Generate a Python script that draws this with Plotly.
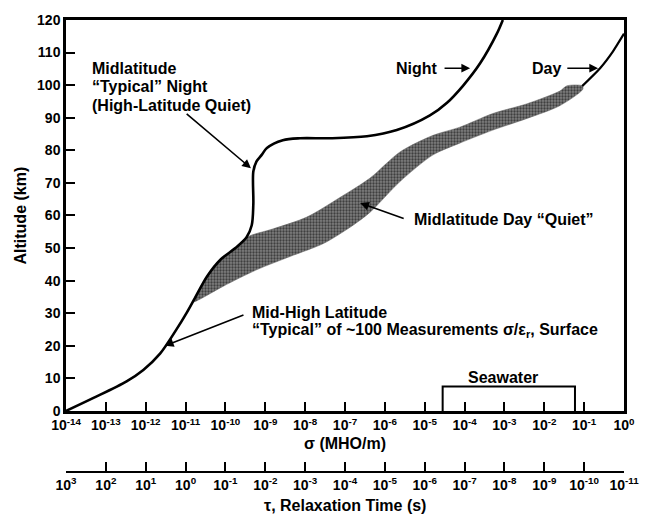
import plotly.graph_objects as go

# ---- conductivity profiles (x given as log10 of sigma in MHO/m, y altitude in km) ----
night_log_sigma = [-14.0, -13.31, -12.48, -12.06, -11.64, -11.22, -10.97, -10.76, -10.45,
                   -10.12, -9.75, -9.47, -9.34, -9.30, -9.30, -9.22, -9.09, -8.96, -8.56,
                   -8.13, -7.38, -6.45, -5.70, -4.87, -4.44, -4.04, -3.61, -3.19, -3.04]
night_alt = [0.0, 4.0, 9.1, 12.6, 17.6, 25.2, 30.2, 34.8, 41.5,
             46.5, 50.0, 53.3, 57.0, 63.5, 73.5, 76.6, 78.6, 80.7, 83.1,
             83.7, 83.7, 84.3, 86.2, 90.7, 94.6, 99.8, 106.7, 115.8, 120.0]

day_log_sigma = [-1.05, -0.60, -0.28, 0.0]
day_alt = [99.7, 105.2, 110.3, 115.8]

# "Midlatitude Day Quiet" band: upper edge left->right, then lower edge right->left
band_upper_log_sigma = [-10.80, -10.45, -10.12, -9.75, -9.47, -8.80, -7.96, -7.13, -6.37,
                        -5.62, -4.79, -4.12, -3.29, -2.43, -1.61, -1.43, -1.05]
band_upper_alt = [33.5, 41.5, 46.5, 50.0, 53.3, 55.9, 59.5, 65.5, 71.5,
                  79.5, 84.6, 87.1, 91.3, 94.3, 98.2, 99.8, 99.8]
band_lower_log_sigma = [-1.03, -1.61, -2.43, -3.29, -4.12, -4.79, -5.62, -6.37, -6.87,
                        -7.54, -8.38, -9.22, -10.05, -10.64]
band_lower_alt = [98.8, 93.7, 89.8, 86.2, 82.2, 78.6, 70.4, 61.0, 56.4,
                  51.4, 47.4, 43.3, 38.3, 34.3]

# seawater conductivity range and box height (km)
seawater_log_sigma = [-4.55, -1.23]
seawater_height = 7.5

# axis ticks
sigma_exponents = list(range(-14, 1))
tau_exponents = list(range(3, -12, -1))
alt_ticks = list(range(0, 121, 10))

FONT = "Liberation Sans, Arial, Helvetica, sans-serif"


def to_sigma(vals):
    return [10 ** v for v in vals]


fig = go.Figure()

band_x = band_upper_log_sigma + band_lower_log_sigma + [band_upper_log_sigma[0]]
band_y = band_upper_alt + band_lower_alt + [band_upper_alt[0]]
fig.add_trace(go.Scatter(
    x=to_sigma(band_x), y=band_y, mode="lines", fill="toself",
    line=dict(color="#666666", width=0.5, shape="spline", smoothing=0.8),
    fillcolor="#707070",
    fillpattern=dict(shape=".", bgcolor="#7e7e7e", fgcolor="#000000",
                     size=3, solidity=0.45),
    hoverinfo="skip", showlegend=False))

fig.add_trace(go.Scatter(
    x=to_sigma(night_log_sigma), y=night_alt, mode="lines",
    line=dict(color="black", width=2.6, shape="spline", smoothing=0.9),
    hoverinfo="skip", showlegend=False))

fig.add_trace(go.Scatter(
    x=to_sigma(day_log_sigma), y=day_alt, mode="lines",
    line=dict(color="black", width=2.2, shape="spline", smoothing=0.6),
    hoverinfo="skip", showlegend=False))

sx0, sx1 = to_sigma(seawater_log_sigma)
fig.add_trace(go.Scatter(
    x=[sx0, sx0, sx1, sx1], y=[0, seawater_height, seawater_height, 0],
    mode="lines", line=dict(color="black", width=2),
    hoverinfo="skip", showlegend=False))

# placeholder trace so the relaxation-time axis is drawn
fig.add_trace(go.Scatter(
    x=[10.0 ** e for e in tau_exponents], y=[None] * len(tau_exponents),
    xaxis="x2", yaxis="y", mode="markers", hoverinfo="skip", showlegend=False))

tick_font = dict(family=FONT, size=14, color="black", weight="bold")

fig.update_layout(
    width=658, height=516,
    margin=dict(l=66, r=34, t=13, b=44),
    paper_bgcolor="white", plot_bgcolor="white",
    font=dict(family=FONT, size=14, color="black", weight="bold"),
    showlegend=False,
    xaxis=dict(
        type="log", range=[-14, 0], anchor="y",
        tickvals=[10.0 ** e for e in sigma_exponents],
        ticktext=[f"10<sup>{e}</sup>" for e in sigma_exponents],
        ticks="inside", ticklen=9, tickwidth=2, tickcolor="black",
        showline=True, linewidth=2.5, linecolor="black", mirror=True,
        showgrid=False, zeroline=False, tickfont=tick_font),
    yaxis=dict(
        range=[0, 120], domain=[0.1351, 1],
        tickvals=alt_ticks,
        ticks="inside", ticklen=9, tickwidth=2, tickcolor="black",
        showline=True, linewidth=2.5, linecolor="black", mirror=True,
        showgrid=False, zeroline=False, tickfont=tick_font),
    xaxis2=dict(
        type="log", range=[3, -11], overlaying="x", anchor="free", position=0,
        side="bottom",
        tickvals=[10.0 ** e for e in tau_exponents],
        ticktext=[f"10<sup>{e}</sup>" for e in tau_exponents],
        ticks="inside", ticklen=9, tickwidth=2, tickcolor="black",
        showline=True, linewidth=2, linecolor="black",
        showgrid=False, zeroline=False, tickfont=tick_font),
)

label_font = dict(family=FONT, size=16, color="black", weight="bold")

# axis titles
fig.add_annotation(text="Altitude (km)", xref="paper", yref="paper",
                   x=-0.0824, y=0.5675, textangle=-90, showarrow=False,
                   font=label_font, xanchor="center", yanchor="middle")
fig.add_annotation(text="σ (MHO/m)", xref="paper", yref="paper",
                   x=0.5, y=0.063, showarrow=False, font=label_font,
                   xanchor="center", yanchor="middle")
fig.add_annotation(text="τ, Relaxation Time (s)", xref="paper", yref="paper",
                   x=0.5, y=-0.074, showarrow=False, font=label_font,
                   xanchor="center", yanchor="middle")

# text labels inside the plot (x in log10 units)
texts = [
    ("Midlatitude", -13.40, 105.2, "left"),
    ("“Typical” Night", -13.40, 99.5, "left"),
    ("(High-Latitude Quiet)", -13.40, 93.7, "left"),
    ("Night", -4.62, 105.2, "right"),
    ("Day", -1.53, 105.2, "right"),
    ("Midlatitude Day “Quiet”", -5.32, 58.9, "left"),
    ("Mid-High Latitude", -9.38, 30.2, "left"),
    ("“Typical” of ~100 Measurements σ/ε<sub>r</sub>, Surface", -9.38, 24.8, "left"),
    ("Seawater", -3.04, 10.3, "center"),
]
for txt, x, y, anchor in texts:
    fig.add_annotation(text=txt, x=x, y=y, xref="x", yref="y", showarrow=False,
                       font=label_font, xanchor=anchor, yanchor="middle",
                       align="left")

# pointer arrows: (head x, head y, tail x, tail y)
arrows = [
    (-9.36, 74.5, -11.01, 91.6),
    (-3.86, 105.2, -4.54, 105.2),
    (-0.65, 105.2, -1.46, 105.2),
    (-6.62, 63.8, -5.49, 58.9),
    (-11.52, 20.0, -9.51, 29.6),
]
for hx, hy, tx, ty in arrows:
    fig.add_annotation(text="", x=hx, y=hy, ax=tx, ay=ty,
                       xref="x", yref="y", axref="x", ayref="y",
                       showarrow=True, arrowhead=2, arrowsize=1.1,
                       arrowwidth=1.6, arrowcolor="black", standoff=0)

fig.write_html("out.html")
